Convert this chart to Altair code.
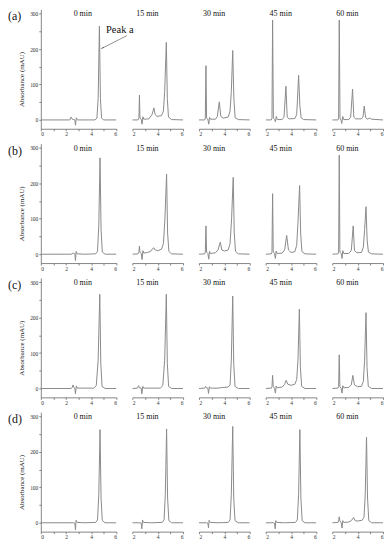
import altair as alt
import pandas as pd

FONT = "Liberation Serif"

TIMES = ["0 min", "15 min", "30 min", "45 min", "60 min"]
ROWS = ["(a)", "(b)", "(c)", "(d)"]

# (retention time [min], absorbance [mAU])
A0 = [(0, 0), (2.3, 0), (2.4, 8), (2.5, 2), (2.7, 0), (2.75, -15), (2.82, 6), (2.9, 0), (4.3, 0), (4.45, 5), (4.55, 60), (4.65, 265), (4.73, 60), (4.82, 5), (5.0, 0), (6, 0)]
A1 = [(2.0, 0), (2.45, 0), (2.52, 5), (2.56, 70), (2.6, 5), (2.7, 2), (2.77, -12), (2.83, 9), (2.9, 2), (3.3, 3), (3.55, 15), (3.7, 34), (3.8, 15), (3.95, 10), (4.3, 12), (4.45, 25), (4.55, 80), (4.68, 219), (4.76, 60), (4.85, 8), (5.1, 1), (6, 0)]
A2 = [(2.0, 0), (2.45, 0), (2.5, 5), (2.55, 153), (2.6, 5), (2.7, 2), (2.77, -12), (2.83, 7), (2.9, 2), (3.3, 2), (3.45, 10), (3.6, 51), (3.72, 10), (3.9, 5), (4.3, 8), (4.45, 25), (4.55, 80), (4.66, 196), (4.75, 60), (4.85, 6), (5.1, 1), (6, 0)]
A3 = [(2.0, 0), (2.45, 0), (2.5, 5), (2.55, 282), (2.61, 5), (2.7, 1), (2.77, -5), (2.84, 10), (2.92, 1), (3.3, 1), (3.45, 8), (3.6, 95), (3.7, 8), (3.85, 3), (4.3, 4), (4.45, 15), (4.5, 50), (4.6, 126), (4.7, 40), (4.8, 6), (5.0, 1), (6, 0)]
A4 = [(2.0, 0), (2.45, 0), (2.5, 5), (2.55, 282), (2.61, 5), (2.7, -2), (2.75, -10), (2.82, 10), (2.9, 1), (3.3, 1), (3.45, 8), (3.6, 87), (3.7, 8), (3.85, 3), (4.3, 3), (4.42, 8), (4.52, 39), (4.62, 8), (4.75, 2), (4.95, 5), (5.1, 2), (6, 0)]

B0 = [(0, 0), (2.4, 0), (2.6, 3), (2.7, 1), (2.75, -18), (2.8, 8), (2.88, 1), (3.5, 0), (4.35, 1), (4.5, 8), (4.6, 80), (4.7, 272), (4.78, 70), (4.88, 6), (5.1, 0), (6, 0)]
B1 = [(2.0, 0), (2.45, 1), (2.52, 6), (2.56, 23), (2.6, 6), (2.7, 2), (2.77, -15), (2.83, 10), (2.9, 3), (3.2, 5), (3.45, 8), (3.6, 16), (3.7, 18), (3.8, 12), (4.0, 10), (4.3, 14), (4.45, 30), (4.57, 100), (4.7, 226), (4.78, 60), (4.88, 8), (5.1, 1), (6, 0)]
B2 = [(2.0, 0), (2.45, 1), (2.5, 6), (2.55, 80), (2.6, 6), (2.7, 2), (2.77, -14), (2.83, 8), (2.9, 2), (3.3, 4), (3.5, 12), (3.68, 34), (3.8, 12), (4.0, 9), (4.3, 12), (4.45, 30), (4.57, 100), (4.7, 217), (4.78, 60), (4.88, 8), (5.1, 1), (6, 0)]
B3 = [(2.0, 0), (2.45, 1), (2.5, 6), (2.55, 171), (2.6, 6), (2.7, 2), (2.77, -12), (2.83, 9), (2.9, 2), (3.3, 3), (3.5, 12), (3.66, 53), (3.8, 12), (4.0, 5), (4.3, 7), (4.45, 25), (4.55, 90), (4.68, 194), (4.76, 60), (4.86, 8), (5.1, 1), (6, 0)]
B4 = [(2.0, 0), (2.45, 1), (2.5, 6), (2.55, 280), (2.6, 6), (2.7, 2), (2.77, -12), (2.83, 10), (2.9, 2), (3.3, 2), (3.5, 10), (3.65, 80), (3.75, 10), (3.95, 4), (4.3, 5), (4.45, 20), (4.55, 70), (4.66, 134), (4.75, 40), (4.85, 6), (5.1, 1), (6, 0)]

C0 = [(0, 0), (2.4, 0), (2.5, 3), (2.55, 10), (2.62, 3), (2.7, 1), (2.75, -15), (2.82, 7), (2.9, 1), (4.2, 1), (4.4, 8), (4.55, 80), (4.68, 266), (4.76, 70), (4.86, 6), (5.1, 0), (6, 0)]
C1 = [(2.0, 0), (2.4, 1), (2.5, 8), (2.56, 2), (2.7, 1), (2.75, -15), (2.82, 6), (2.9, 1), (4.2, 1), (4.4, 8), (4.55, 80), (4.68, 266), (4.76, 70), (4.86, 6), (5.1, 0), (6, 0)]
C2 = [(2.0, 0), (2.45, 1), (2.52, 6), (2.58, 2), (2.7, 1), (2.75, -14), (2.82, 5), (2.9, 1), (3.5, 1), (3.9, 3), (4.3, 4), (4.45, 10), (4.55, 80), (4.66, 261), (4.74, 70), (4.84, 6), (5.1, 0), (6, 0)]
C3 = [(2.0, 0), (2.45, 1), (2.5, 5), (2.55, 37), (2.6, 5), (2.7, 1), (2.77, -13), (2.83, 7), (2.9, 2), (3.3, 4), (3.5, 12), (3.62, 23), (3.75, 12), (4.0, 9), (4.3, 12), (4.45, 25), (4.55, 80), (4.66, 224), (4.74, 60), (4.84, 6), (5.1, 0), (6, 0)]
C4 = [(2.0, 0), (2.45, 1), (2.5, 5), (2.55, 95), (2.6, 5), (2.7, 1), (2.77, -13), (2.83, 8), (2.9, 2), (3.3, 3), (3.5, 10), (3.62, 37), (3.75, 10), (4.0, 5), (4.3, 6), (4.45, 20), (4.55, 80), (4.66, 214), (4.74, 60), (4.84, 6), (5.1, 0), (6, 0)]

D0 = [(0, 0), (2.6, 0), (2.7, -1), (2.75, -20), (2.8, 7), (2.88, 1), (3.5, 0), (4.35, 1), (4.5, 8), (4.6, 80), (4.7, 263), (4.78, 70), (4.88, 6), (5.1, 0), (6, 0)]
D1 = [(2.0, 0), (2.6, 0), (2.7, -1), (2.75, -17), (2.8, 8), (2.88, 1), (3.5, 0), (4.35, 1), (4.5, 8), (4.6, 80), (4.7, 265), (4.78, 70), (4.88, 6), (5.1, 0), (6, 0)]
D2 = [(2.0, 0), (2.6, 0), (2.7, -1), (2.75, -14), (2.8, 7), (2.88, 1), (3.5, 0), (4.3, 1), (4.45, 8), (4.55, 80), (4.66, 272), (4.74, 70), (4.84, 6), (5.1, 0), (6, 0)]
D3 = [(2.0, 0), (2.6, 0), (2.7, -1), (2.75, -17), (2.8, 6), (2.88, 1), (3.5, 0), (4.35, 1), (4.5, 8), (4.6, 80), (4.7, 263), (4.78, 70), (4.88, 6), (5.1, 0), (6, 0)]
D4 = [(2.0, 0), (2.45, 1), (2.5, 5), (2.55, 17), (2.6, 4), (2.7, 1), (2.77, -15), (2.83, 6), (2.9, 1), (3.3, 2), (3.5, 6), (3.68, 15), (3.8, 6), (4.0, 5), (4.35, 7), (4.5, 15), (4.6, 80), (4.7, 242), (4.78, 70), (4.88, 6), (5.1, 0), (6, 0)]

PANELS = [[A0, A1, A2, A3, A4], [B0, B1, B2, B3, B4], [C0, C1, C2, C3, C4], [D0, D1, D2, D3, D4]]

# "Peak a" annotation (data coordinates of panel a, 0 min)
PEAK_TEXT = ["Peak a"]
PEAK_TEXT_X = [6.27]
PEAK_TEXT_Y = [255]
ARROW_X = [6.83]
ARROW_Y = [238]
ARROW_X2 = [4.9]
ARROW_Y2 = [203]

LINE_COLOR = "#8a8a8a"
Y_DOMAIN = [-25, 312]


def panel(r, c):
    first = c == 0
    df = pd.DataFrame(PANELS[r][c], columns=["t", "a"])
    xdom = [0, 6] if first else [2, 6]
    xscale = alt.Scale(domain=xdom, nice=False, zero=False)
    yscale = alt.Scale(domain=Y_DOMAIN, nice=False, zero=False)
    xaxis = alt.Axis(values=list(range(xdom[0], 7)),
                     labelExpr="datum.value % 2 == 0 ? datum.label : ''",
                     labelOverlap=False, title=None, grid=False)
    if first:
        yaxis = alt.Axis(values=list(range(0, 301, 50)),
                         labelExpr="datum.value % 100 == 0 ? datum.label : ''",
                         labelOverlap=False,
                         title="Absorbance (mAU)", grid=False,
                         titleX=-19, titleY=70, titleAngle=270,
                         titleAlign="center", titleBaseline="middle",
                         titleFontSize=7, titleFontWeight="normal",
                         titleFont=FONT, titleColor="#222")
    else:
        yaxis = None
    line = alt.Chart(df).mark_line(color=LINE_COLOR, strokeWidth=1, clip=True).encode(
        x=alt.X("t:Q", scale=xscale, axis=xaxis),
        y=alt.Y("a:Q", scale=yscale, axis=yaxis),
    )
    title = alt.Chart(pd.DataFrame({"label": [TIMES[c]]})).mark_text(
        align="left", baseline="middle", fontSize=8, font=FONT, color="#111"
    ).encode(x=alt.value(33 if first else 4), y=alt.value(5), text="label:N")
    layers = [line, title]
    if first:
        rl = alt.Chart(pd.DataFrame({"label": [ROWS[r]]})).mark_text(
            align="left", baseline="middle", fontSize=12, font=FONT, color="#111"
        ).encode(x=alt.value(-33), y=alt.value(7), text="label:N")
        layers.append(rl)
    if r == 0 and c == 0:
        adf = pd.DataFrame({"x": ARROW_X, "y": ARROW_Y, "x2": ARROW_X2, "y2": ARROW_Y2})
        rule = alt.Chart(adf).mark_rule(color="#777", strokeWidth=0.8).encode(
            x=alt.X("x:Q", scale=xscale, axis=xaxis),
            y=alt.Y("y:Q", scale=yscale, axis=yaxis),
            x2="x2:Q", y2="y2:Q")
        head = alt.Chart(adf).mark_point(shape="wedge", filled=True, angle=240, size=22,
                                         color="#555", opacity=1).encode(
            x=alt.X("x2:Q", scale=xscale, axis=xaxis),
            y=alt.Y("y2:Q", scale=yscale, axis=yaxis))
        tdf = pd.DataFrame({"label": PEAK_TEXT, "x": PEAK_TEXT_X, "y": PEAK_TEXT_Y})
        txt = alt.Chart(tdf).mark_text(fontSize=10.5, font=FONT, color="#111",
                                       align="center", baseline="middle").encode(
            x=alt.X("x:Q", scale=xscale, axis=xaxis),
            y=alt.Y("y:Q", scale=yscale, axis=yaxis),
            text="label:N")
        layers += [rule, head, txt]
    return alt.layer(*layers).properties(width=76 if first else 51, height=120)


charts = [panel(r, c) for r in range(4) for c in range(5)]

chart = alt.concat(*charts, columns=5, spacing={"row": 15, "column": 16}, bounds="flush").properties(
    padding=0, background="white"
).configure_view(stroke=None).configure_axis(
    labelFont=FONT, labelFontSize=5.5, labelColor="#333", labelPadding=1,
    tickSize=2, tickColor="#666", domainColor="#666", domainWidth=0.8, tickWidth=0.8,
)

chart.save("out.html", embed_options={"renderer": "svg", "actions": False})
